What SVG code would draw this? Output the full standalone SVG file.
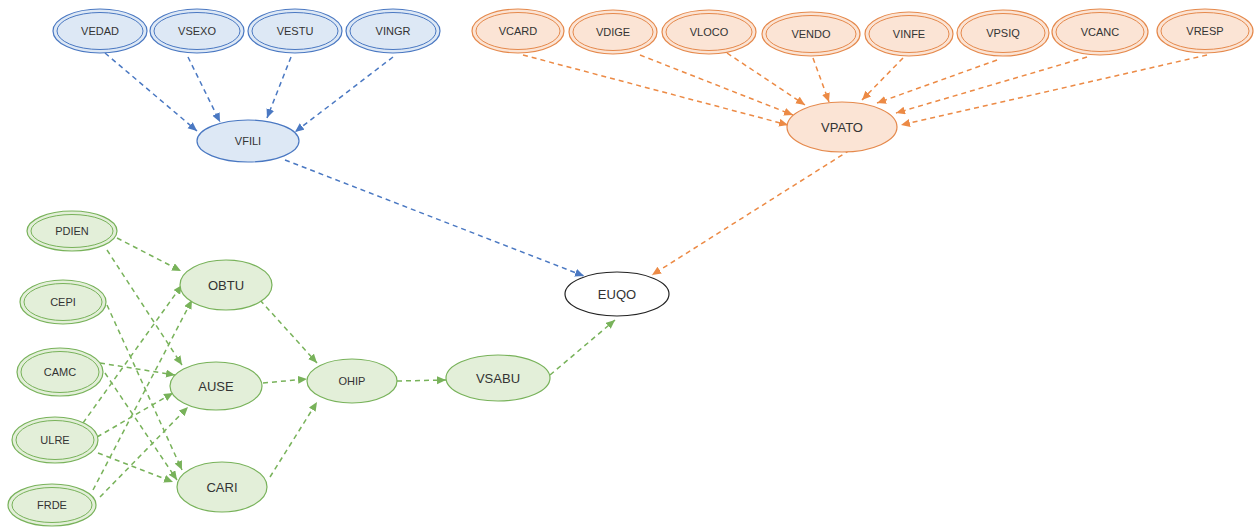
<svg xmlns="http://www.w3.org/2000/svg" width="1259" height="527" viewBox="0 0 1259 527">
<defs>
<style>
.b{fill:#dde8f5;stroke:#4a78c2;stroke-width:1.2}
.bi{fill:none;stroke:#4a78c2;stroke-width:1}
.o{fill:#fbe4d5;stroke:#e5894c;stroke-width:1.2}
.oi{fill:none;stroke:#e5894c;stroke-width:1}
.g{fill:#e3efd9;stroke:#78b25a;stroke-width:1.2}
.gi{fill:none;stroke:#78b25a;stroke-width:1}
.w{fill:#fff;stroke:#222;stroke-width:1.2}
text{font-family:"Liberation Sans",Arial,sans-serif;font-size:11px;fill:#333;text-anchor:middle;dominant-baseline:central}
.big{font-size:13px}
.eb{stroke:#4a78c2;stroke-width:1.5;stroke-dasharray:5 4;fill:none;marker-end:url(#ab)}
.eo{stroke:#ec8a45;stroke-width:1.5;stroke-dasharray:5 4;fill:none;marker-end:url(#ao)}
.eg{stroke:#78b25a;stroke-width:1.5;stroke-dasharray:5 4;fill:none;marker-end:url(#ag)}
</style>
<marker id="ab" markerUnits="userSpaceOnUse" markerWidth="10" markerHeight="10" refX="9" refY="4" orient="auto"><path d="M0,0 L9,4 L0,8 Z" fill="#4a78c2"/></marker>
<marker id="ao" markerUnits="userSpaceOnUse" markerWidth="10" markerHeight="10" refX="9" refY="4" orient="auto"><path d="M0,0 L9,4 L0,8 Z" fill="#ec8a45"/></marker>
<marker id="ag" markerUnits="userSpaceOnUse" markerWidth="10" markerHeight="10" refX="9" refY="4" orient="auto"><path d="M0,0 L9,4 L0,8 Z" fill="#78b25a"/></marker>
</defs>
<rect width="1259" height="527" fill="#fff"/>
<g id="connectors">
<line class="eb" x1="105" y1="53" x2="197" y2="131"/>
<line class="eb" x1="188" y1="57" x2="220" y2="122"/>
<line class="eb" x1="291" y1="57" x2="267" y2="118"/>
<line class="eb" x1="393" y1="57" x2="295" y2="132"/>
<line class="eb" x1="285" y1="160" x2="584" y2="276"/>
<line class="eo" x1="523" y1="55" x2="788" y2="125"/>
<line class="eo" x1="640" y1="55" x2="793" y2="115"/>
<line class="eo" x1="727" y1="53" x2="805" y2="105"/>
<line class="eo" x1="813" y1="58" x2="829" y2="102"/>
<line class="eo" x1="903" y1="58" x2="862" y2="100"/>
<line class="eo" x1="997" y1="60" x2="877" y2="103"/>
<line class="eo" x1="1087" y1="57" x2="896" y2="113"/>
<line class="eo" x1="1207" y1="55" x2="901" y2="125"/>
<line class="eo" x1="850" y1="150" x2="652" y2="275"/>
<line class="eg" x1="117" y1="238" x2="181" y2="271"/>
<line class="eg" x1="107" y1="250" x2="182" y2="365"/>
<line class="eg" x1="107" y1="305" x2="182" y2="470"/>
<line class="eg" x1="100" y1="363" x2="175" y2="375"/>
<line class="eg" x1="105" y1="373" x2="177" y2="480"/>
<line class="eg" x1="83" y1="423" x2="182" y2="285"/>
<line class="eg" x1="97" y1="437" x2="173" y2="393"/>
<line class="eg" x1="98" y1="453" x2="173" y2="482"/>
<line class="eg" x1="93" y1="490" x2="192" y2="300"/>
<line class="eg" x1="100" y1="497" x2="188" y2="407"/>
<line class="eg" x1="260" y1="300" x2="317" y2="363"/>
<line class="eg" x1="263" y1="383" x2="307" y2="379"/>
<line class="eg" x1="270" y1="477" x2="317" y2="402"/>
<line class="eg" x1="397" y1="381" x2="446" y2="380"/>
<line class="eg" x1="550" y1="375" x2="615" y2="320"/>
</g>
<g id="VEDAD"><ellipse class="b" cx="100" cy="31" rx="47" ry="22"/><ellipse class="bi" cx="100" cy="31" rx="43" ry="18.5"/><text x="100" y="31">VEDAD</text></g>
<g id="VSEXO"><ellipse class="b" cx="197" cy="31" rx="47" ry="22"/><ellipse class="bi" cx="197" cy="31" rx="43" ry="18.5"/><text x="197" y="31">VSEXO</text></g>
<g id="VESTU"><ellipse class="b" cx="295" cy="31" rx="47" ry="22"/><ellipse class="bi" cx="295" cy="31" rx="43" ry="18.5"/><text x="295" y="31">VESTU</text></g>
<g id="VINGR"><ellipse class="b" cx="393" cy="31" rx="47" ry="22"/><ellipse class="bi" cx="393" cy="31" rx="43" ry="18.5"/><text x="393" y="31">VINGR</text></g>
<g id="VFILI"><ellipse class="b" cx="248" cy="141" rx="51" ry="21"/><text x="248" y="141">VFILI</text></g>
<g id="VCARD"><ellipse class="o" cx="518" cy="31" rx="46" ry="22"/><ellipse class="oi" cx="518" cy="31" rx="42" ry="18.5"/><text x="518" y="31">VCARD</text></g>
<g id="VDIGE"><ellipse class="o" cx="613" cy="32" rx="44" ry="22"/><ellipse class="oi" cx="613" cy="32" rx="40" ry="18.5"/><text x="613" y="32">VDIGE</text></g>
<g id="VLOCO"><ellipse class="o" cx="709" cy="32" rx="47" ry="22"/><ellipse class="oi" cx="709" cy="32" rx="43" ry="18.5"/><text x="709" y="32">VLOCO</text></g>
<g id="VENDO"><ellipse class="o" cx="811" cy="34" rx="49" ry="22"/><ellipse class="oi" cx="811" cy="34" rx="45" ry="18.5"/><text x="811" y="34">VENDO</text></g>
<g id="VINFE"><ellipse class="o" cx="909" cy="34" rx="44" ry="22"/><ellipse class="oi" cx="909" cy="34" rx="40" ry="18.5"/><text x="909" y="34">VINFE</text></g>
<g id="VPSIQ"><ellipse class="o" cx="1003" cy="33" rx="46" ry="23"/><ellipse class="oi" cx="1003" cy="33" rx="42" ry="19.5"/><text x="1003" y="33">VPSIQ</text></g>
<g id="VCANC"><ellipse class="o" cx="1100" cy="32" rx="48" ry="23"/><ellipse class="oi" cx="1100" cy="32" rx="44" ry="19.5"/><text x="1100" y="32">VCANC</text></g>
<g id="VRESP"><ellipse class="o" cx="1205" cy="31" rx="48" ry="22"/><ellipse class="oi" cx="1205" cy="31" rx="44" ry="18.5"/><text x="1205" y="31">VRESP</text></g>
<g id="VPATO"><ellipse class="o" cx="842" cy="127" rx="55" ry="25"/><text class="big" x="842" y="127">VPATO</text></g>
<g id="PDIEN"><ellipse class="g" cx="72" cy="231" rx="45" ry="20"/><ellipse class="gi" cx="72" cy="231" rx="41" ry="16.5"/><text x="72" y="231">PDIEN</text></g>
<g id="CEPI"><ellipse class="g" cx="63" cy="302" rx="43" ry="22"/><ellipse class="gi" cx="63" cy="302" rx="39" ry="18.5"/><text x="63" y="302">CEPI</text></g>
<g id="CAMC"><ellipse class="g" cx="60" cy="372" rx="43" ry="24"/><ellipse class="gi" cx="60" cy="372" rx="39" ry="20.5"/><text x="60" y="372">CAMC</text></g>
<g id="ULRE"><ellipse class="g" cx="55" cy="440" rx="43" ry="23"/><ellipse class="gi" cx="55" cy="440" rx="39" ry="19.5"/><text x="55" y="440">ULRE</text></g>
<g id="FRDE"><ellipse class="g" cx="52" cy="505" rx="44" ry="21"/><ellipse class="gi" cx="52" cy="505" rx="40" ry="17.5"/><text x="52" y="505">FRDE</text></g>
<g id="OBTU"><ellipse class="g" cx="226" cy="285" rx="46" ry="25"/><text class="big" x="226" y="285">OBTU</text></g>
<g id="AUSE"><ellipse class="g" cx="216" cy="386" rx="46" ry="24"/><text class="big" x="216" y="386">AUSE</text></g>
<g id="CARI"><ellipse class="g" cx="222" cy="487" rx="45" ry="25"/><text class="big" x="222" y="487">CARI</text></g>
<g id="OHIP"><ellipse class="g" cx="352" cy="381" rx="45" ry="22"/><text x="352" y="381">OHIP</text></g>
<g id="VSABU"><ellipse class="g" cx="498" cy="378" rx="52" ry="23"/><text class="big" x="498" y="378">VSABU</text></g>
<g id="EUQO"><ellipse class="w" cx="617" cy="294" rx="52" ry="22"/><text class="big" x="617" y="294">EUQO</text></g>
</svg>
